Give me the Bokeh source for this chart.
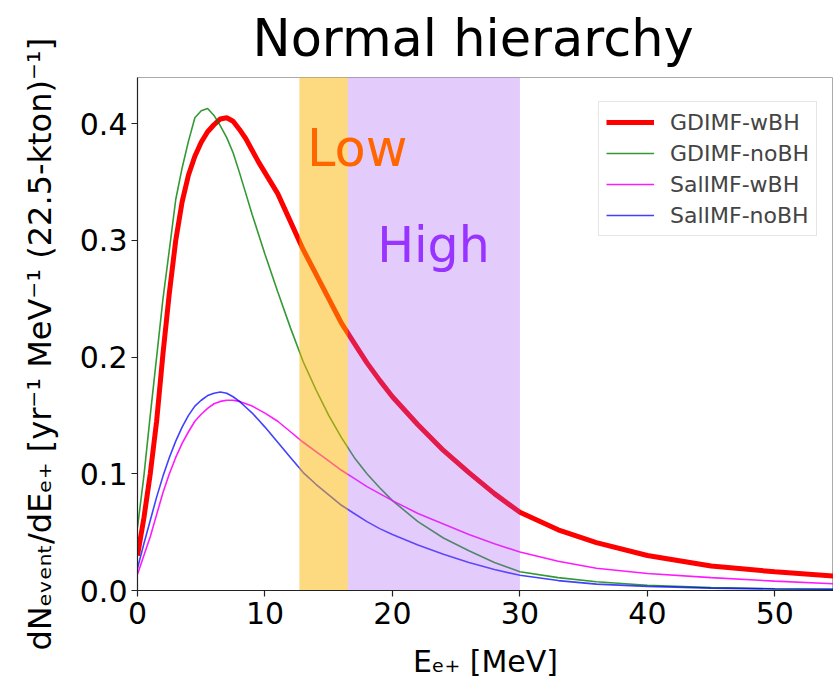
from bokeh.plotting import figure
from bokeh.models import Range1d, FixedTicker, PrintfTickFormatter, Legend, LegendItem
from bokeh.core.properties import value
from bokeh.embed import file_html
from bokeh.resources import INLINE

# ---- data ----
energy = [0, 0.5, 1, 1.5, 2, 2.5, 3, 3.5, 4, 4.5, 5, 5.5, 6, 6.5, 7, 7.5, 8, 8.5, 9, 9.5, 10, 11,
          12, 13, 14, 15, 16, 17, 18, 19, 20, 22, 24, 26, 28, 30, 33, 36, 40, 45, 50, 55]

gd_wbh = [0.030, 0.062, 0.100, 0.145, 0.203, 0.255, 0.300, 0.333, 0.356, 0.372, 0.384, 0.393,
          0.399, 0.404, 0.405, 0.402, 0.395, 0.387, 0.377, 0.367, 0.358, 0.340, 0.316, 0.292,
          0.271, 0.250, 0.229, 0.212, 0.195, 0.180, 0.166, 0.142, 0.120, 0.101, 0.083, 0.067,
          0.052, 0.041, 0.030, 0.021, 0.016, 0.012]

gd_nobh = [0.054, 0.098, 0.150, 0.200, 0.250, 0.292, 0.335, 0.362, 0.385, 0.405, 0.411, 0.413,
           0.407, 0.398, 0.388, 0.375, 0.358, 0.340, 0.322, 0.305, 0.288, 0.256, 0.225, 0.196,
           0.172, 0.150, 0.131, 0.114, 0.100, 0.088, 0.077, 0.059, 0.045, 0.034, 0.024, 0.016,
           0.011, 0.0075, 0.0045, 0.0025, 0.0015, 0.001]

sal_wbh = [0.014, 0.030, 0.046, 0.065, 0.084, 0.100, 0.114, 0.126, 0.136, 0.145, 0.151, 0.156,
           0.160, 0.162, 0.163, 0.163, 0.162, 0.160, 0.158, 0.155, 0.152, 0.145, 0.136, 0.127,
           0.119, 0.111, 0.103, 0.096, 0.089, 0.083, 0.077, 0.066, 0.057, 0.048, 0.040, 0.033,
           0.025, 0.019, 0.0145, 0.011, 0.008, 0.0055]

sal_nobh = [0.019, 0.040, 0.060, 0.080, 0.098, 0.114, 0.128, 0.140, 0.150, 0.158, 0.163, 0.167,
            0.169, 0.170, 0.169, 0.166, 0.162, 0.157, 0.152, 0.146, 0.140, 0.127, 0.114, 0.101,
            0.091, 0.082, 0.073, 0.066, 0.059, 0.053, 0.048, 0.039, 0.031, 0.024, 0.018, 0.013,
            0.0085, 0.0055, 0.0035, 0.002, 0.0013, 0.001]

series_names = ["GDIMF-wBH", "GDIMF-noBH", "SalIMF-wBH", "SalIMF-noBH"]

band_names = ["Low", "High"]
band_lo = [12.7, 16.5]
band_hi = [16.5, 30.0]

x_ticks = [0, 10, 20, 30, 40, 50]
y_ticks = [0.0, 0.1, 0.2, 0.3, 0.4]

title_text = "Normal hierarchy"
x_label = "E\u2091\u208a [MeV]"
y_label = ("dN\u2091\u1d65\u2091\u2099\u209c/dE\u2091\u208a [yr\u207b\u00b9 MeV\u207b\u00b9 "
           "(22.5-kton)\u207b\u00b9]" + "\u00a0" * 2)

FONT = "DejaVu Sans"

# frame in page pixels: left 137, right 833, top 77, bottom 590
p = figure(width=833, height=688, output_backend="svg", toolbar_location=None,
           x_range=Range1d(0, 54.6), y_range=Range1d(0, 0.4395),
           min_border_left=137, min_border_right=0, min_border_top=77, min_border_bottom=98)

p.title.text = title_text
p.title.text_font = FONT
p.title.text_font_size = "51px"
p.title.text_font_style = "normal"
p.title.text_color = "black"
p.title.align = "left"
p.title.offset = 115
p.title.vertical_align = "top"
p.title.standoff = 15

p.grid.visible = False
p.outline_line_color = "#aaaaaa"
p.outline_line_width = 1
p.background_fill_color = "white"
p.border_fill_color = "white"

# curves
r1 = p.line(energy, gd_wbh, line_color="#ff0000", line_width=5)
r2 = p.line(energy, gd_nobh, line_color="#008000", line_width=1.6, line_alpha=0.8)
r3 = p.line(energy, sal_wbh, line_color="#ff00ff", line_width=1.6, line_alpha=0.9)
r4 = p.line(energy, sal_nobh, line_color="#0000ff", line_width=1.6, line_alpha=0.75)

# shaded bands on top
p.quad(left=[band_lo[0]], right=[band_hi[0]], bottom=[0], top=[0.45],
       fill_color="#fbb300", fill_alpha=0.5, line_color=None)
p.quad(left=[band_lo[1]], right=[band_hi[1]], bottom=[0], top=[0.45],
       fill_color="#a255f5", fill_alpha=0.3, line_color=None)

p.text(x=[13.3], y=[0.379], text=[band_names[0]], text_color="#ff6600",
       text_font=value(FONT), text_font_size="51px", text_baseline="alphabetic", text_align="left")
p.text(x=[18.8], y=[0.2955], text=[band_names[1]], text_color="#9933ff",
       text_font=value(FONT), text_font_size="49px", text_baseline="alphabetic", text_align="left")

legend = Legend(items=[LegendItem(label=series_names[0], renderers=[r1]),
                       LegendItem(label=series_names[1], renderers=[r2]),
                       LegendItem(label=series_names[2], renderers=[r3]),
                       LegendItem(label=series_names[3], renderers=[r4])],
                location=(461, 354))
legend.label_text_font = FONT
legend.label_text_font_size = "22px"
legend.glyph_width = 48
legend.glyph_height = 26
legend.label_height = 26
legend.spacing = 5
legend.padding = 7
legend.margin = 0
legend.label_standoff = 16
legend.border_line_color = "#cccccc"
legend.border_line_width = 1
legend.background_fill_alpha = 0.8
p.add_layout(legend)

xax = p.below[0]
yax = p.left[0]
for ax in (xax, yax):
    ax.axis_line_color = "#222222"
    ax.axis_line_width = 1.2
    ax.major_tick_line_color = "#222222"
    ax.major_tick_line_width = 1.2
    ax.major_tick_out = 6
    ax.major_tick_in = 0
    ax.minor_tick_out = 0
    ax.minor_tick_in = 0
    ax.major_label_text_font = FONT
    ax.major_label_text_font_size = "30px"
    ax.major_label_text_color = "black"
    ax.axis_label_text_font = FONT
    ax.axis_label_text_font_style = "normal"
    ax.axis_label_text_color = "black"

xax.ticker = FixedTicker(ticks=x_ticks)
yax.ticker = FixedTicker(ticks=y_ticks)
yax.formatter = PrintfTickFormatter(format="%.1f")
xax.major_label_standoff = 5
yax.major_label_standoff = 4

xax.axis_label = x_label
xax.axis_label_text_font_size = "30px"
xax.axis_label_standoff = 17
yax.axis_label = y_label
yax.axis_label_text_font_size = "32px"
yax.axis_label_standoff = 18

open("out.html", "w").write(file_html(p, INLINE))
